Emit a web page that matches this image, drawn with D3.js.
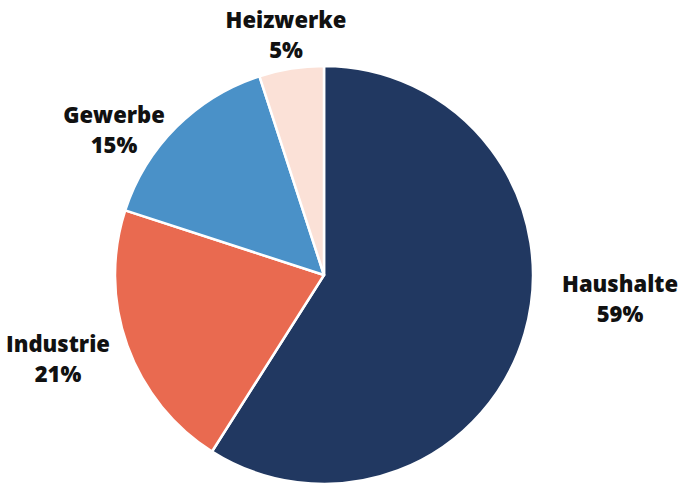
<!DOCTYPE html>
<html>
<head>
<meta charset="utf-8">
<script src="https://cdn.jsdelivr.net/npm/d3@7"></script>
<style>
  html, body { margin: 0; padding: 0; background: #fff; }
  svg { display: block; }
  .label { font-family: "Open Sans", sans-serif; font-weight: 800; font-size: 22px; fill: #111; }
</style>
</head>
<body>
<svg id="chart" width="681" height="485"></svg>
<script>
// Sector shares (percent), drawn clockwise from 12 o'clock
const categories = ["Haushalte", "Industrie", "Gewerbe", "Heizwerke"];
const shares = [59, 21, 15, 5];
const colors = ["#213861", "#e96a50", "#4a91c8", "#fbe1d7"];

// Label anchor points (first baseline), relative to the pie centre
const labelOffsets = [[296, 17], [-266, 77], [-210, -152], [-38, -247]];

const width = 681, height = 485;
const cx = 324, cy = 275, radius = 209;

const svg = d3.select("#chart");
const g = svg.append("g").attr("transform", `translate(${cx},${cy})`);

const data = categories.map((c, i) => ({ name: c, value: shares[i], color: colors[i], off: labelOffsets[i] }));

const pie = d3.pie().value(d => d.value).sort(null);
const arc = d3.arc().innerRadius(0).outerRadius(radius);

g.selectAll("path")
  .data(pie(data))
  .join("path")
  .attr("d", arc)
  .attr("fill", d => d.data.color)
  .attr("stroke", "#fff")
  .attr("stroke-width", 2.5)
  .attr("stroke-linejoin", "round");

const labels = g.selectAll("text.label")
  .data(data)
  .join("text")
  .attr("class", "label")
  .attr("text-anchor", "middle")
  .attr("transform", d => `translate(${d.off[0]},${d.off[1]})`);

labels.append("tspan").attr("x", 0).attr("y", 0).text(d => d.name);
labels.append("tspan").attr("x", 0).attr("y", 30).text(d => d.value + "%");
</script>
</body>
</html>
